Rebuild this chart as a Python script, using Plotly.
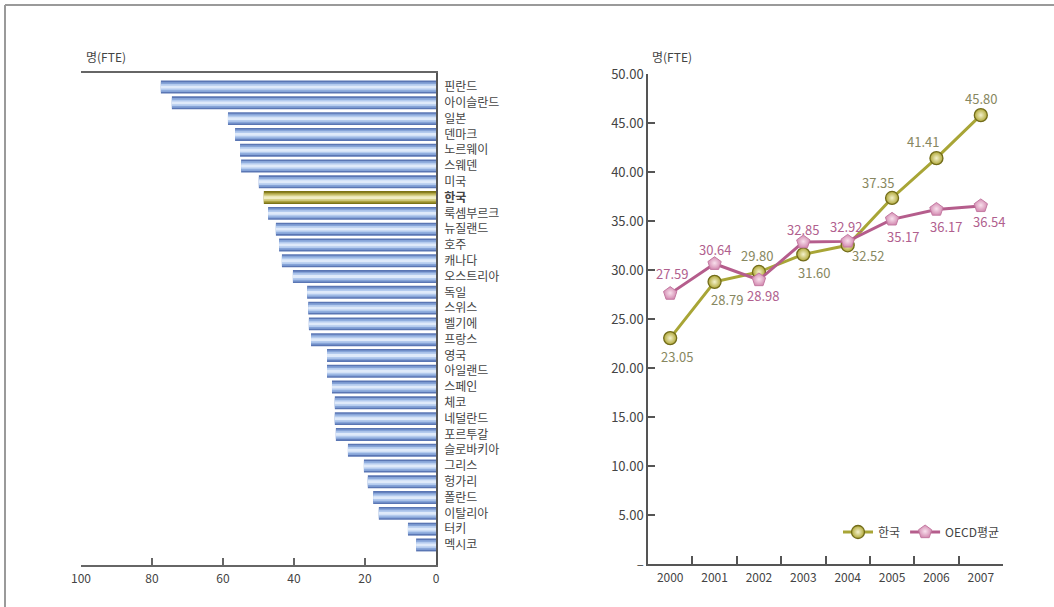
import plotly.graph_objects as go

# Researchers per 1,000 employed, by country (FTE)
countries = ["핀란드", "아이슬란드", "일본", "덴마크", "노르웨이", "스웨덴", "미국", "한국",
             "룩셈부르크", "뉴질랜드", "호주", "캐나다", "오스트리아", "독일", "스위스", "벨기에",
             "프랑스", "영국", "아일랜드", "스페인", "체코", "네덜란드", "포르투갈", "슬로바키아",
             "그리스", "헝가리", "폴란드", "이탈리아", "터키", "멕시코"]
country_values = [77.5, 74.4, 58.6, 56.6, 55.2, 54.9, 49.9, 48.5,
                  47.3, 45.1, 44.2, 43.4, 40.3, 36.3, 36.0, 35.8,
                  35.2, 30.7, 30.7, 29.3, 28.5, 28.5, 28.2, 24.8,
                  20.3, 19.2, 17.7, 16.1, 7.9, 5.6]

# Trend: Korea vs OECD average
years = ["2000", "2001", "2002", "2003", "2004", "2005", "2006", "2007"]
korea = [23.05, 28.79, 29.80, 31.60, 32.52, 37.35, 41.41, 45.80]
oecd = [27.59, 30.64, 28.98, 32.85, 32.92, 35.17, 36.17, 36.54]

# Value-label offsets from each point, in pixels (dx right, dy up)
korea_label_dx = [7, 12, -2, 11, 20, -14, -13, 0]
korea_label_dy = [-18, -18, 16, -18, -10, 15, 17, 17]
oecd_label_dx = [2, 0, 4, 0, -2, 11, 10, 8]
oecd_label_dy = [20, 14, -15, 13, 15, -17, -17, -16]

W, H = 1054, 607
FONT = "Noto Sans CJK KR, DejaVu Sans, sans-serif"
TXT = "#444444"
KOREA_LABEL = "#878760"
OECD_LABEL = "#b0608e"


def px_x(p):
    return p / W


def px_y(p):
    return 1 - p / H


fig = go.Figure()

# Striped bars: overlaid layers of decreasing thickness give the shaded look
blue_layers = ["#5a76b4", "#86a4d8", "#b4cbee", "#dfeafa"]
gold_layers = ["#7c7416", "#aea443", "#d6d088", "#f1eec4"]
widths = [0.82, 0.62, 0.40, 0.18]
for i, w in enumerate(widths):
    colors = [gold_layers[i] if c == "한국" else blue_layers[i] for c in countries]
    fig.add_trace(go.Bar(
        x=country_values, y=countries, orientation="h",
        width=w, marker=dict(color=colors, line=dict(width=0)),
        xaxis="x", yaxis="y", showlegend=False, hoverinfo="x+y",
    ))

# Line chart (radial gradient: gradient.color is the marker centre)
fig.add_trace(go.Scatter(
    x=years, y=korea, name="한국", mode="lines+markers",
    line=dict(color="#a8a536", width=3),
    marker=dict(symbol="circle", size=13, color="#b0a838",
                gradient=dict(type="radial", color="#f4f1cc"),
                line=dict(color="#726c1a", width=1.3)),
    xaxis="x2", yaxis="y2", cliponaxis=False,
))
fig.add_trace(go.Scatter(
    x=years, y=oecd, name="OECD평균", mode="lines+markers",
    line=dict(color="#b55d8c", width=3),
    marker=dict(symbol="pentagon", size=14, color="#d48cb2",
                gradient=dict(type="radial", color="#f8e0ec"),
                line=dict(color="#c47aa2", width=1)),
    xaxis="x2", yaxis="y2", cliponaxis=False,
))

annotations = [
    dict(text="명(FTE)", xref="paper", yref="paper", x=px_x(84), y=px_y(57),
         xanchor="left", yanchor="middle", showarrow=False,
         font=dict(size=12, color=TXT)),
    dict(text="명(FTE)", xref="paper", yref="paper", x=px_x(650), y=px_y(57),
         xanchor="left", yanchor="middle", showarrow=False,
         font=dict(size=12, color=TXT)),
]
# Category positions on the year axis are serial numbers 0..7
for i, (v, dx, dy) in enumerate(zip(korea, korea_label_dx, korea_label_dy)):
    annotations.append(dict(
        text=f"{v:.2f}", xref="x2", yref="y2", x=i, y=v,
        xshift=dx, yshift=dy, showarrow=False,
        xanchor="center", yanchor="middle",
        font=dict(size=13, color=KOREA_LABEL)))
for i, (v, dx, dy) in enumerate(zip(oecd, oecd_label_dx, oecd_label_dy)):
    annotations.append(dict(
        text=f"{v:.2f}", xref="x2", yref="y2", x=i, y=v,
        xshift=dx, yshift=dy, showarrow=False,
        xanchor="center", yanchor="middle",
        font=dict(size=13, color=OECD_LABEL)))

y2_ticks = [0, 5, 10, 15, 20, 25, 30, 35, 40, 45, 50]
y2_text = ["–" if v == 0 else f"{v:.2f}" for v in y2_ticks]
tick_text_left = ["<b>%s</b>" % c if c == "한국" else c for c in countries]

fig.update_layout(
    width=W, height=H,
    margin=dict(l=0, r=0, t=0, b=0),
    paper_bgcolor="white", plot_bgcolor="white",
    font=dict(family=FONT, size=12, color=TXT),
    barmode="overlay",
    xaxis=dict(
        domain=[px_x(81), px_x(436)], anchor="y",
        range=[100, 0], tickvals=[100, 80, 60, 40, 20, 0],
        showgrid=False, zeroline=False,
        showline=True, linecolor="#666666", linewidth=1.5, mirror=True,
        ticks="inside", ticklen=7, tickcolor="#666666", tickwidth=1.5,
        tickfont=dict(size=12, color=TXT), automargin=False,
        ticklabelstandoff=2,
    ),
    yaxis=dict(
        domain=[px_y(565), px_y(73)], anchor="x", side="right",
        type="category", categoryorder="array", categoryarray=countries,
        range=[30.27, -0.89],
        tickvals=countries, ticktext=tick_text_left,
        showgrid=False, zeroline=False,
        showline=True, linecolor="#555555", linewidth=1.5,
        ticks="", tickfont=dict(size=12, color=TXT), automargin=False,
        ticklabelstandoff=4,
    ),
    xaxis2=dict(
        domain=[px_x(648), px_x(1003)], anchor="y2",
        type="category", range=[-0.5, 7.5],
        showgrid=False, zeroline=False,
        showline=True, linecolor="#555555", linewidth=1.5,
        ticks="inside", tickson="boundaries", ticklen=8,
        tickcolor="#555555", tickwidth=1.5,
        tickfont=dict(size=12, color=TXT), automargin=False,
        ticklabelstandoff=2,
    ),
    yaxis2=dict(
        domain=[px_y(564), px_y(74)], anchor="x2",
        range=[0, 50], tickvals=y2_ticks, ticktext=y2_text,
        showgrid=False, zeroline=False,
        showline=True, linecolor="#555555", linewidth=1.5,
        ticks="inside", ticklen=7, tickcolor="#555555", tickwidth=1.5,
        tickfont=dict(size=13, color=TXT), automargin=False,
    ),
    legend=dict(
        orientation="h", x=px_x(1005), xanchor="right",
        y=px_y(532), yanchor="middle",
        font=dict(size=12, color=TXT), bgcolor="rgba(0,0,0,0)",
        itemwidth=30,
    ),
    annotations=annotations,
    shapes=[
        dict(type="line", xref="paper", yref="paper",
             x0=px_x(5), x1=1, y0=px_y(5), y1=px_y(5),
             line=dict(color="#9a9a9a", width=2)),
        dict(type="line", xref="paper", yref="paper",
             x0=px_x(5), x1=px_x(5), y0=px_y(5), y1=0,
             line=dict(color="#9a9a9a", width=2)),
    ],
)

fig.write_html("out.html")
